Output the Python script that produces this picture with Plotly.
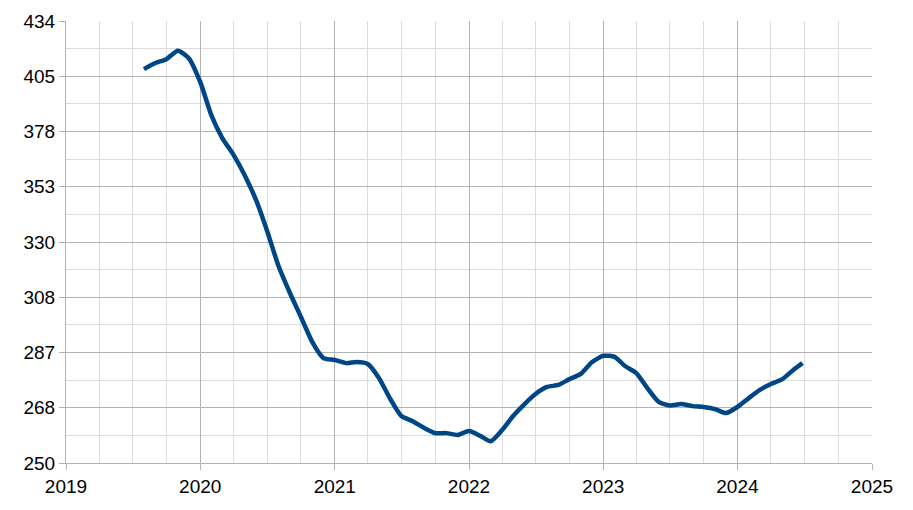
import math
import plotly.graph_objects as go

# valeurs mensuelles
dates = [
    "2019-08-01", "2019-09-01", "2019-10-01", "2019-11-01", "2019-12-01",
    "2020-01-01", "2020-02-01", "2020-03-01", "2020-04-01", "2020-05-01", "2020-06-01",
    "2020-07-01", "2020-08-01", "2020-09-01", "2020-10-01", "2020-11-01", "2020-12-01",
    "2021-01-01", "2021-02-01", "2021-03-01", "2021-04-01", "2021-05-01", "2021-06-01",
    "2021-07-01", "2021-08-01", "2021-09-01", "2021-10-01", "2021-11-01", "2021-12-01",
    "2022-01-01", "2022-02-01", "2022-03-01", "2022-04-01", "2022-05-01", "2022-06-01",
    "2022-07-01", "2022-08-01", "2022-09-01", "2022-10-01", "2022-11-01", "2022-12-01",
    "2023-01-01", "2023-02-01", "2023-03-01", "2023-04-01", "2023-05-01", "2023-06-01",
    "2023-07-01", "2023-08-01", "2023-09-01", "2023-10-01", "2023-11-01", "2023-12-01",
    "2024-01-01", "2024-02-01", "2024-03-01", "2024-04-01", "2024-05-01", "2024-06-01",
    "2024-06-26",
]
valeurs = [
    408.8, 411.9, 413.9, 418.3, 414.4,
    402.3, 385.6, 375.1, 367.2, 358.1, 347.1,
    334.0, 319.7, 309.1, 300.0, 290.7, 285.0,
    284.3, 283.2, 283.6, 282.9, 278.0, 270.8,
    265.1, 263.4, 261.2, 259.5, 259.5, 258.9,
    260.2, 258.6, 256.9, 260.5, 265.1, 269.1,
    272.5, 274.9, 275.6, 277.6, 279.4, 283.5,
    285.8, 285.4, 282.2, 279.7, 274.5, 269.8,
    268.6, 269.1, 268.4, 268.1, 267.4, 266.1,
    268.1, 271.1, 273.8, 275.9, 277.5, 280.8,
    283.2,
]

# graduations de l'axe Y (échelle log, pas constant)
y_labels = ["250", "268", "287", "308", "330", "353", "378", "405", "434"]
y_min, y_max = 250, 434.1
pas = (y_max / y_min) ** (1 / 8)
y_ticks = [y_min * pas ** k for k in range(len(y_labels))]
y_minor = [y_min * pas ** (k + 0.5) for k in range(len(y_labels) - 1)]

fig = go.Figure()
fig.add_trace(go.Scatter(
    x=dates, y=valeurs, mode="lines",
    line=dict(color="#004586", width=4.5, shape="spline", smoothing=0.6),
    showlegend=False,
))

police = dict(family="Liberation Sans, Arial, sans-serif", size=19, color="black")

fig.update_layout(
    width=913, height=510,
    margin=dict(l=58, r=49, t=13, b=55, autoexpand=False),
    paper_bgcolor="white", plot_bgcolor="white",
    font=police,
)
fig.update_xaxes(
    type="date",
    range=["2019-01-01", "2025-01-01"],
    dtick="M12", tick0="2019-01-01", tickformat="%Y",
    ticks="outside", ticklen=6, tickcolor="#b3b3b3",
    showgrid=True, gridcolor="#b3b3b3", gridwidth=1,
    showline=True, linecolor="#b3b3b3", linewidth=1,
    zeroline=False, automargin=False,
    minor=dict(dtick="M3", tick0="2019-01-01", showgrid=True,
               gridcolor="#dddddd", gridwidth=1, ticks=""),
    tickfont=police,
)
fig.update_yaxes(
    type="log",
    range=[math.log10(y_min), math.log10(y_max)],
    tickmode="array", tickvals=y_ticks, ticktext=y_labels,
    ticks="outside", ticklen=6, tickcolor="#b3b3b3",
    showgrid=True, gridcolor="#b3b3b3", gridwidth=1,
    showline=True, linecolor="#b3b3b3", linewidth=1,
    zeroline=False, automargin=False,
    minor=dict(tickmode="array", tickvals=y_minor, showgrid=True,
               gridcolor="#dddddd", gridwidth=1, ticks=""),
    tickfont=police,
)

fig.write_html("out.html")
